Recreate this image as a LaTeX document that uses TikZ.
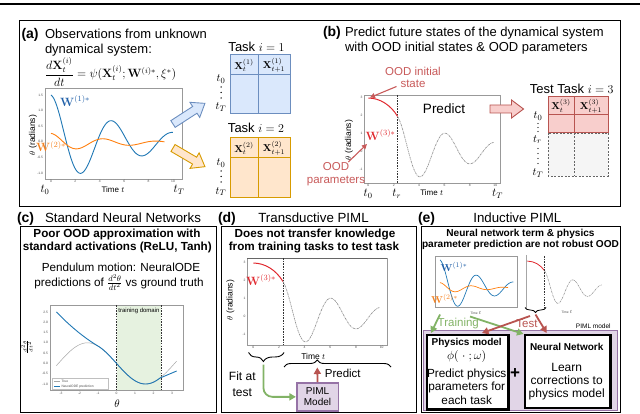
\documentclass[tikz,border=0pt]{standalone}
\usepackage[no-math]{fontspec}
\setmainfont{Liberation Sans}
\usepackage{amsmath}
\usetikzlibrary{decorations.pathreplacing,arrows.meta}
\newcommand\fs[2]{\fontsize{#1}{#2}\selectfont}
\definecolor{tblue}{HTML}{1F77B4}
\definecolor{wblue}{HTML}{1F5FA8}
\definecolor{torange}{HTML}{FF7F0E}
\definecolor{worange}{HTML}{F58220}
\definecolor{bfill}{HTML}{DAE8FC}
\definecolor{bline}{HTML}{6C8EBF}
\definecolor{ofill}{HTML}{FFE6CC}
\definecolor{oline}{HTML}{D79B00}
\definecolor{rfill}{HTML}{F8CECC}
\definecolor{rline}{HTML}{B85450}
\definecolor{gfill}{HTML}{F5F5F5}
\definecolor{gline}{HTML}{666666}
\definecolor{pfill}{HTML}{E1D5E7}
\definecolor{pline}{HTML}{9673A6}
\definecolor{grn}{HTML}{82B366}
\definecolor{oodred}{HTML}{C85A5A}
\definecolor{curvered}{HTML}{E0282E}
\definecolor{domgreen}{HTML}{E6F2E0}
\newcommand\trainplot[5]{%
 \draw[tblue, line width=#5] plot[domain=0:10,samples=100] ({#1+#2*\x},{#3-#4*1.5*exp(-0.16*\x)*cos(deg(1.25*\x))});
 \draw[torange, line width=#5] plot[domain=0:9.3,samples=90] ({#1+#2*\x},{#3-#4*(-0.03+0.3*exp(-0.2*\x)*cos(deg(1.45*\x)))});
}
\newcommand\testplot[5]{%
 \draw[curvered, line width=#5] ({#1},{#3-2.97*#4}) .. controls ({#1+0.91*#2},{#3-2.97*#4}) and ({#1+1.77*#2},{#3-2.58*#4}) .. ({#1+2.31*#2},{#3-1.94*#4});
 \draw[gray!85, line width=0.7*#5, dash pattern=on 2pt off 0.8pt on 0.6pt off 0.8pt] plot[domain=2.31:9.87,samples=90] ({#1+#2*\x},{#3-#4*exp(-0.18*(\x-6.1))*cos(deg(1.6*(\x-6.1)))});
}
\newcommand\fatarrow[5]{\begin{scope}[shift={(#1,#2)},rotate=#3]
 \draw[#5,line join=miter] (0,-4) -- ({#4-12},-4) -- ({#4-12},-9) -- (#4,0) -- ({#4-12},9) -- ({#4-12},4) -- (0,4) -- cycle;
\end{scope}}
\begin{document}
\begin{tikzpicture}[x=1pt,y=-1pt,
 tx/.style={inner sep=0pt,outer sep=0pt},
 tk/.style={inner sep=0pt,outer sep=0pt,font=\fs{3.3}{4},text=black!70},
 frm/.style={draw=black!40,line width=0.4pt},
 vdash/.style={black!80,line width=0.6pt,dash pattern=on 1.6pt off 1.1pt},
 grnarr/.style={grn,line width=1.8pt,-{Triangle[length=6.5pt,width=7pt]}},
 redarr/.style={rline,line width=1.8pt,-{Triangle[length=6.5pt,width=7pt]}},
 oodarr/.style={oodred,line width=1.1pt,-{Triangle[length=5pt,width=5pt]}},
 panel/.style={line width=0.8pt}]
\useasboundingbox (0,0) rectangle (640,414);
\draw[line width=1.4pt] (0,4) -- (640,4);
\draw[panel] (19.5,20) rectangle (620,206);

% ---------- (a)
\node[tx,anchor=base west,font=\fs{14}{16}\bfseries] (la) at (21.5,38.5) {(a)};
\node[tx,anchor=base west,font=\fs{13}{15}] (a1) at (45,38.5) {Observations from unknown};
\node[tx,anchor=base west,font=\fs{13}{15}] (a2) at (45,53.5) {dynamical system:};
\node[tx,anchor=base west,font=\fs{12}{14}] (aeq) at (45,78) {$\displaystyle\frac{d\mathbf{X}_t^{(i)}}{dt}=\psi(\mathbf{X}_t^{(i)};\mathbf{W}^{(i)*},\xi^{*})$};
\draw[frm] (45,88) rectangle (182,179);
\foreach \v [count=\k] in {1.5,1.0,0.5,0.0,-0.5,-1.0} \node[tk,anchor=east] (ayt\k) at (43,{141.8-31.2*(\v)}) {\v};
\foreach \v [count=\k] in {0,2,4,6,8,10} \node[tk,anchor=north] (axt\k) at ({51+12.2*\v},180.5) {\v};
\node[tx,rotate=90,font=\fs{8.5}{10}] (ayl) at (33,135) {$\theta$ (radians)};
\trainplot{51}{12.2}{141.8}{31.2}{0.9}
\node[tx,font=\fs{8}{10}] (axl) at (113,190) {Time $t$};
\node[tx,font=\fs{12}{14}] (at0) at (45,190) {$t_0$};
\node[tx,font=\fs{12}{14}] (atT) at (179,190) {$t_T$};
\node[tx,font=\fs{12}{14},text=wblue] (aw1) at (75,101) {$\mathbf{W}^{(1)*}$};
\node[tx,font=\fs{12}{14},text=worange] (aw2) at (51,146.7) {$\mathbf{W}^{(2)*}$};
\fatarrow{173}{124}{32.9}{38}{draw=bline,fill=bfill,line width=0.9pt}
\fatarrow{173}{148}{-30.3}{37}{draw=oline,fill=ofill,line width=0.9pt}

% task tables
\node[tx,font=\fs{13}{15}] (task1) at (256.5,46.5) {Task $i=1$};
\draw[draw=bline,fill=bfill,line width=1pt] (230,55) rectangle (290,114);
\draw[bline,line width=1pt] (230,75) -- (290,75) (258,55) -- (258,114);
\node[tx,font=\fs{10}{12}] (x11) at (244,65.5) {$\mathbf{X}_t^{(1)}$};
\node[tx,font=\fs{10}{12}] (x12) at (274,65.5) {$\mathbf{X}_{t+1}^{(1)}$};
\node[tx,font=\fs{11}{13}] (t10) at (221,79) {$t_0$};
\foreach \yy in {87,92.5,98} \fill (221,\yy) circle (0.75);
\node[tx,font=\fs{11}{13}] (t1T) at (221,107) {$t_T$};

\node[tx,font=\fs{13}{15}] (task2) at (256,128.3) {Task $i=2$};
\draw[draw=oline,fill=ofill,line width=1pt] (230,138) rectangle (290,198);
\draw[oline,line width=1pt] (230,158) -- (290,158) (258,138) -- (258,198);
\node[tx,font=\fs{10}{12}] (x21) at (244,148.5) {$\mathbf{X}_t^{(2)}$};
\node[tx,font=\fs{10}{12}] (x22) at (274,148.5) {$\mathbf{X}_{t+1}^{(2)}$};
\node[tx,font=\fs{11}{13}] (t20) at (221,163) {$t_0$};
\foreach \yy in {171,176.5,182} \fill (221,\yy) circle (0.75);
\node[tx,font=\fs{11}{13}] (t2T) at (221,191.5) {$t_T$};

% ---------- (b)
\node[tx,anchor=base west,font=\fs{14}{16}\bfseries] (lb) at (323,36.5) {(b)};
\node[tx,anchor=base west,font=\fs{13}{15}] (b1) at (345,36.5) {Predict future states of the dynamical system};
\node[tx,anchor=base west,font=\fs{13}{15}] (b2) at (345,51.3) {with OOD initial states \& OOD parameters};
\draw[frm] (364,95) rectangle (500,183);
\foreach \v [count=\k] in {3,2,1,0,-1} \node[tk,anchor=east] (byt\k) at (362.5,{151.2-17.9*(\v)}) {\v};
\foreach \v [count=\k] in {0,2,4,6,8,10} \node[tk,anchor=north] (bxt\k) at ({368.3+12.7*\v},184.3) {\v};
\node[tx,rotate=90,font=\fs{8.5}{10}] (byl) at (349,140) {$\theta$ (radians)};
\draw[vdash] (397.6,95) -- (397.6,183);
\testplot{368.3}{12.7}{151.2}{17.9}{1}
\node[tx,font=\fs{12}{14}] (bt0) at (368,194) {$t_0$};
\node[tx,font=\fs{12}{14}] (btr) at (396.7,194) {$t_r$};
\node[tx,font=\fs{8}{10}] (bxl) at (431.7,193) {Time $t$};
\node[tx,font=\fs{12}{14}] (btT) at (497.5,194) {$t_T$};
\node[tx,font=\fs{13.5}{15}] (bpred) at (444,109) {Predict};
\node[tx,font=\fs{11.5}{12.3},text=oodred,align=center] (oodi) at (413,77.5) {OOD initial\\state};
\node[tx,font=\fs{11.5}{12.5},text=oodred,align=center] (oodp) at (336,174) {OOD\\parameters};
\node[tx,font=\fs{11.5}{13},text=curvered] (bw3) at (380.5,135) {$\mathbf{W}^{(3)*}$};
\coordinate (oia) at (396.5,86.5);
\coordinate (oib) at (370,97.5);
\coordinate (opa) at (348.3,162);
\coordinate (opb) at (367,144);
\draw[oodarr] (oia) -- (oib);
\draw[oodarr] (opa) -- (opb);
\fatarrow{490}{109}{0}{33.5}{draw=rline,fill=rfill,line width=0.9pt}
\node[tx,font=\fs{13}{15}] (task3) at (571.7,88.5) {Test Task $i=3$};
\draw[draw=rline,fill=rfill,line width=1pt] (548,97) rectangle (608,133);
\draw[rline,line width=1pt] (548,115) -- (608,115) (574,97) -- (574,133);
\draw[gline,fill=gfill,line width=0.8pt,dash pattern=on 2pt off 1.5pt] (548,133) rectangle (608,176);
\draw[gline,line width=0.8pt,dash pattern=on 2pt off 1.5pt] (574,133) -- (574,176);
\node[tx,font=\fs{10}{12}] (x31) at (561,106) {$\mathbf{X}_t^{(3)}$};
\node[tx,font=\fs{10}{12}] (x32) at (591,106) {$\mathbf{X}_{t+1}^{(3)}$};
\node[tx,font=\fs{11}{13}] (t30) at (538,116) {$t_0$};
\foreach \yy in {123.5,127.5,131.5} \fill (538,\yy) circle (0.7);
\node[tx,font=\fs{11}{13}] (t3r) at (537.5,139.5) {$t_r$};
\foreach \yy in {148.5,153.5,158.5,163.5} \fill (538,\yy) circle (0.7);
\node[tx,font=\fs{11}{13}] (t3T) at (538,173) {$t_T$};

% ---------- (c)
\draw[panel] (20,226) rectangle (216,412);
\node[tx,anchor=base west,font=\fs{14}{16}\bfseries] (lc) at (17,222.7) {(c)};
\node[tx,anchor=base west,font=\fs{13.3}{15}] (ct) at (45,222.7) {Standard Neural Networks};
\node[tx,anchor=base,font=\fs{11.7}{14}\bfseries] (c1) at (117,238) {Poor OOD approximation with};
\node[tx,anchor=base,font=\fs{11.7}{14}\bfseries] (c2) at (117.3,251) {standard activations (ReLU, Tanh)};
\node[tx,anchor=base,font=\fs{11.7}{14}] (c3) at (121,271.5) {Pendulum motion: NeuralODE};
\node[tx,anchor=base,font=\fs{11.7}{14}] (c4) at (119,286) {predictions of $\frac{d^2\theta}{dt^2}$ vs ground truth};
\fill[domgreen] (116.5,305.5) rectangle (161,389.5);
\draw[frm] (50,305) rectangle (183,390);
\draw[vdash] (116.5,305) -- (116.5,390);
\draw[vdash] (161,305) -- (161,390);
\node[tx,font=\fs{6}{7}] (cdom) at (139,311) {training domain};
\draw[gray!70,line width=0.5pt] plot[domain=-3.25:3.25,samples=80] ({116.5+18.5*\x},{363.4+20.6*sin(deg(\x))});
\draw[tblue,line width=0.9pt] plot[domain=-3.25:-1,samples=30] ({116.5+18.5*\x},{363.4-20.6*(0.8415-0.5403*(\x+1)+0.0874*(\x+1)*(\x+1))}) -- plot[domain=-1:2.35,samples=60] ({116.5+18.5*\x},{363.4+20.6*sin(deg(\x))}) -- ({116.5+18.5*3.25},{363.4+20.6*0.37});
\foreach \v [count=\k] in {2.5,2.0,1.5,1.0,0.5,0.0,-0.5,-1.0} \node[tk,anchor=east] (cyt\k) at (48,{363.4-20.6*(\v)}) {\v};
\foreach \v [count=\k] in {-3,-2,-1,0,1,2,3} \node[tk,anchor=north] (cxt\k) at ({116.5+18.5*(\v)},392) {\v};
\node[tx,font=\fs{11}{12}] (cxl) at (117,404) {$\theta$};
\node[tx,rotate=90,font=\fs{7}{8}] (cyl) at (27,347) {$\frac{d^2\theta}{dt^2}$};
\draw[draw=black!25,fill=white,line width=0.4pt] (52,378) rectangle (108,389.5);
\draw[gray!70,line width=0.5pt] (54,381) -- (60,381);
\draw[tblue,line width=0.6pt] (54,386.5) -- (60,386.5);
\node[tk,anchor=west] (clg1) at (61.5,381) {True};
\node[tk,anchor=west] (clg2) at (61.5,386.5) {NeuralODE prediction};

% ---------- (d)
\draw[panel] (221,226) rectangle (416,412);
\node[tx,anchor=base west,font=\fs{14}{16}\bfseries] (ld) at (218,222.7) {(d)};
\node[tx,anchor=base west,font=\fs{13.3}{15}] (dt) at (258.3,222.7) {Transductive PIML};
\node[tx,anchor=base,font=\fs{11.7}{14}\bfseries] (d1) at (315,238) {Does not transfer knowledge};
\node[tx,anchor=base,font=\fs{11.7}{14}\bfseries] (d2) at (314,251) {from training tasks to test task};
\draw[frm] (247,258) rectangle (387,345);
\draw[black!60,line width=0.5pt] (247,258) -- (387,258);
\foreach \v [count=\k] in {3,2,1,0,-1} \node[tk,anchor=east] (dyt\k) at (245.5,{316.2-17.9*(\v)}) {\v};
\foreach \v [count=\k] in {0,2,4,6,8,10} \node[tk,anchor=north] (dxt\k) at ({253.3+12.84*\v},346.5) {\v};
\node[tx,rotate=90,font=\fs{8.5}{10}] (dyl) at (230.5,300) {$\theta$ (radians)};
\draw[vdash] (283,258) -- (283,345);
\testplot{253.3}{12.84}{316.2}{17.9}{1}
\node[tx,font=\fs{11.5}{13},text=curvered] (dw3) at (261,280) {$\mathbf{W}^{(3)*}$};
\node[tx,font=\fs{8.5}{10}] (dxl) at (313.3,356) {Time $t$};
\draw[line width=0.9pt,decorate,decoration={brace,amplitude=9pt,aspect=0.58}] (284,352.5) -- (248.5,352.5);
\draw[line width=0.9pt,decorate,decoration={brace,amplitude=7pt,aspect=0.31}] (284,367) -- (391,367);
\coordinate (gd) at (263.4,364.5);
\coordinate (rd) at (317.3,367.5);
\node[draw=pline,fill=pfill,line width=1.6pt,minimum width=41.6,minimum height=27.7,inner sep=0pt,align=center,font=\fs{10}{11.3}] (pm) at (317.5,396.85) {PIML\\Model};
\draw[grnarr,rounded corners=9pt] (gd) |- (pm.west);
\draw[redarr] (pm.north) -- (rd);
\node[tx,font=\fs{11.5}{13}] (dpred) at (342.8,373.3) {Predict};
\node[tx,font=\fs{12}{16},align=center] (dfit) at (242.3,384) {Fit at\\test};

% ---------- (e)
\draw[panel] (421,226) rectangle (620,412.5);
\node[tx,anchor=base west,font=\fs{14}{16}\bfseries] (le) at (418,222.7) {(e)};
\node[tx,anchor=base west,font=\fs{13.3}{15}] (et) at (473.3,222.7) {Inductive PIML};
\node[tx,anchor=base,font=\fs{10.1}{12}\bfseries] (e1) at (520.5,236.5) {Neural network term \& physics};
\node[tx,anchor=base,font=\fs{10.1}{12}\bfseries] (e2) at (520.5,247.5) {parameter prediction are not robust OOD};
\draw[frm] (435,256) rectangle (517,307);
\trainplot{440}{7.33}{287.6}{18.4}{0.7}
\node[tx,font=\fs{10}{12},text=wblue] (ew1) at (454,266.7) {$\mathbf{W}^{(1)*}$};
\node[tx,font=\fs{10}{12},text=worange] (ew2) at (444.5,299) {$\mathbf{W}^{(2)*}$};
\draw[black!35,line width=0.4pt] (526,255) -- (526,308);
\testplot{527.3}{7.54}{289.6}{9.6}{0.8}
\draw[vdash] (544.7,256) -- (544.7,308);
\node[tk] (exl1) at (476,312.5) {Time $t$};
\node[tk] (exl2) at (567,311.5) {Time $t$};
\draw[line width=0.8pt,decorate,decoration={brace,amplitude=5pt,aspect=0.5}] (546,307.5) -- (525,307.5);
\draw[draw=pline,fill=pfill,line width=1pt] (423.3,330) rectangle (617.3,410.7);
\node[draw=black,fill=white,line width=2.2pt,minimum width=81.3,minimum height=74.3,inner sep=0pt,anchor=north west] (phys) at (426,334) {};
\node[draw=black,fill=white,line width=2.2pt,minimum width=85.3,minimum height=72.7,inner sep=0pt,anchor=north west] (nn) at (524,334) {};
\node[tx,font=\fs{10}{12}\bfseries] (pt1) at (466.7,343.3) {Physics model};
\node[tx,font=\fs{13}{15}] (pt2) at (466.7,356) {$\phi(\;\cdot\;;\omega)$};
\node[tx,font=\fs{11.8}{13.3},align=center] (pt3) at (466.7,386.7) {Predict physics\\parameters for\\each task};
\node[tx,font=\fs{17}{19}\bfseries] (plus) at (515,373.3) {+};
\node[tx,font=\fs{10}{12}\bfseries] (nt1) at (566.7,346.7) {Neural Network};
\node[tx,font=\fs{12}{13.3},align=center] (nt2) at (566.7,381.7) {Learn\\corrections to\\physics model};
\coordinate (g1s) at (440,314.5);
\coordinate (g1e) at (431,333);
\coordinate (g2s) at (470,316.5);
\coordinate (g2e) at (523.5,334);
\coordinate (r1s) at (530,316);
\coordinate (r1e) at (482,333);
\coordinate (r2s) at (535.5,314.5);
\coordinate (r2e) at (546.7,333);
\draw[grnarr] (g1s) -- (g1e);
\draw[grnarr] (g2s) -- (g2e);
\draw[redarr] (r1s) -- (r1e);
\draw[redarr] (r2s) -- (r2e);
\node[tx,font=\fs{11.5}{13},text=grn] (trn) at (458.3,323.3) {Training};
\node[tx,font=\fs{11.5}{13},text=rline] (tst) at (527,323.3) {Test};
\node[tx,font=\fs{6.5}{8}] (pimlm) at (593.3,326.5) {PIML model};
\end{tikzpicture}
\end{document}
